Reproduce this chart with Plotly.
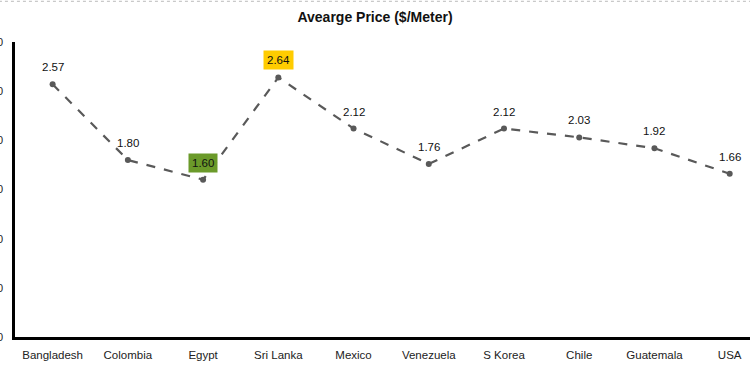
import plotly.graph_objects as go

countries = ["Bangladesh", "Colombia", "Egypt", "Sri Lanka", "Mexico",
             "Venezuela", "S Korea", "Chile", "Guatemala", "USA"]
prices = [2.57, 1.80, 1.60, 2.64, 2.12, 1.76, 2.12, 2.03, 1.92, 1.66]
highlight = {"Egypt": "#6b9a2a", "Sri Lanka": "#ffcc00"}
y_ticks = [0, 0.5, 1.0, 1.5, 2.0, 2.5, 3.0]

FONT = "Liberation Sans, Arial, sans-serif"

fig = go.Figure()
fig.add_trace(go.Scatter(
    x=countries, y=prices, mode="lines+markers",
    line=dict(color="#595959", width=2.2, dash="dash"),
    marker=dict(color="#595959", size=6),
    hoverinfo="skip", showlegend=False,
))

for c, v in zip(countries, prices):
    bg = highlight.get(c)
    fig.add_annotation(
        x=c, y=v, text=f"{v:.2f}", showarrow=False, yshift=17,
        font=dict(family=FONT, size=11.5, color="#111111"),
        bgcolor=bg if bg else "rgba(0,0,0,0)", borderpad=3,
    )

fig.update_layout(
    width=750, height=366,
    margin=dict(l=15, r=0, t=42, b=29, autoexpand=False),
    paper_bgcolor="white", plot_bgcolor="white",
    title=dict(text="<b>Avearge Price ($/Meter)</b>", x=0.5, xanchor="center",
               y=0.953, yanchor="middle", yref="container",
               font=dict(family=FONT, size=14, color="#111111")),
    xaxis=dict(range=[-0.5, 9.27], showgrid=False, zeroline=False, automargin=False,
               showline=True, linecolor="black", linewidth=2.5,
               ticks="", tickfont=dict(family=FONT, size=11.5, color="#222222"),
               ticklabelstandoff=5),
    yaxis=dict(range=[0, 3], tickvals=y_ticks, automargin=False,
               ticktext=[f"{t:.2f}" for t in y_ticks],
               showgrid=False, zeroline=False,
               showline=True, linecolor="black", linewidth=2.5,
               ticks="", tickfont=dict(family=FONT, size=11, color="#222222"),
               ticklabelstandoff=7),
    shapes=[
        dict(type="line", xref="paper", yref="paper", x0=-0.03, x1=1, y0=1.138, y1=1.138,
             line=dict(color="#bbbbbb", width=1, dash="dot")),
    ],
)

fig.write_html("out.html", config={"displayModeBar": False},
               post_script="document.body.style.margin='0';document.body.style.overflow='hidden';")
